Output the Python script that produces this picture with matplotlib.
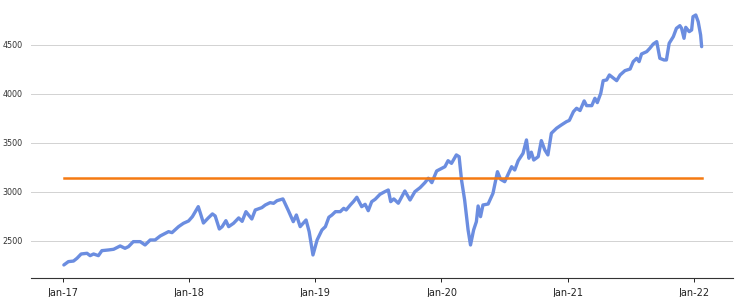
import matplotlib
matplotlib.use('Agg')
import matplotlib.pyplot as plt
import matplotlib.dates as mdates
import pandas as pd

# index level
dates = [
    '2017-01-03', '2017-01-16', '2017-01-31', '2017-02-10', '2017-02-22', '2017-03-11',
    '2017-03-20', '2017-03-30', '2017-04-13', '2017-04-23', '2017-05-12', '2017-05-27',
    '2017-06-15', '2017-06-29', '2017-07-09', '2017-07-23', '2017-08-12', '2017-08-26',
    '2017-09-10', '2017-09-24', '2017-10-09', '2017-11-02', '2017-11-12', '2017-12-01',
    '2017-12-15', '2017-12-30',
    '2018-01-10', '2018-01-27', '2018-02-02', '2018-02-11', '2018-02-25', '2018-03-09',
    '2018-03-17', '2018-03-29', '2018-04-06', '2018-04-17', '2018-04-25', '2018-05-09',
    '2018-05-24', '2018-06-03', '2018-06-14', '2018-07-01', '2018-07-11', '2018-07-30',
    '2018-08-09', '2018-08-23', '2018-09-02', '2018-09-12', '2018-09-29', '2018-10-14',
    '2018-10-29', '2018-11-07', '2018-11-18', '2018-12-05', '2018-12-14', '2018-12-25',
    '2019-01-06', '2019-01-20', '2019-01-30', '2019-02-09', '2019-02-18', '2019-02-28',
    '2019-03-14', '2019-03-24', '2019-03-31', '2019-04-12', '2019-04-21', '2019-05-01',
    '2019-05-15', '2019-05-25', '2019-06-03', '2019-06-13', '2019-06-23', '2019-07-07',
    '2019-07-21', '2019-07-31', '2019-08-07', '2019-08-16', '2019-08-29', '2019-09-17',
    '2019-10-02', '2019-10-16', '2019-10-31', '2019-11-14', '2019-11-24', '2019-12-04',
    '2019-12-18',
    '2020-01-02', '2020-01-11', '2020-01-20', '2020-01-30', '2020-02-13', '2020-02-21',
    '2020-02-28', '2020-03-08', '2020-03-18', '2020-03-25', '2020-04-03', '2020-04-11',
    '2020-04-16', '2020-04-23', '2020-04-30', '2020-05-15', '2020-05-29', '2020-06-11',
    '2020-06-20', '2020-07-02', '2020-07-22', '2020-07-31', '2020-08-10', '2020-08-24',
    '2020-09-03', '2020-09-10', '2020-09-17', '2020-09-24', '2020-10-07', '2020-10-16',
    '2020-10-26', '2020-11-04', '2020-11-14', '2020-11-29', '2020-12-13', '2020-12-28',
    '2021-01-05', '2021-01-17', '2021-01-26', '2021-02-05', '2021-02-17', '2021-02-24',
    '2021-03-11', '2021-03-20', '2021-03-27', '2021-04-06', '2021-04-13', '2021-04-23',
    '2021-05-01', '2021-05-22', '2021-06-01', '2021-06-15', '2021-06-30', '2021-07-09',
    '2021-07-19', '2021-07-26', '2021-08-02', '2021-08-17', '2021-08-26', '2021-09-05',
    '2021-09-15', '2021-09-24', '2021-10-06', '2021-10-13', '2021-10-21', '2021-11-02',
    '2021-11-11', '2021-11-21', '2021-11-26', '2021-12-03', '2021-12-08', '2021-12-18',
    '2021-12-25', '2021-12-29',
    '2022-01-06', '2022-01-13', '2022-01-20', '2022-01-23',
]
values = [
    2255, 2289, 2295, 2323, 2367, 2374,
    2350, 2367, 2350, 2401, 2408, 2415,
    2449, 2425, 2442, 2493, 2493, 2459,
    2510, 2510, 2551, 2595, 2585, 2646,
    2680, 2704,
    2748, 2850, 2785, 2683, 2735, 2776,
    2755, 2622, 2645, 2707, 2646, 2680,
    2735, 2700, 2799, 2724, 2816, 2840,
    2867, 2891, 2884, 2911, 2929, 2816,
    2697, 2765, 2646, 2714, 2595, 2357,
    2510, 2612, 2646, 2742, 2765, 2799,
    2799, 2833, 2816, 2867, 2901, 2946,
    2850, 2874, 2809, 2901, 2925, 2976,
    3003, 3020, 2901, 2929, 2885, 3010,
    2918, 3003, 3044, 3095, 3140, 3095,
    3214,
    3241, 3258, 3319, 3292, 3378, 3360,
    3122, 2918, 2612, 2459, 2612, 2697,
    2857, 2748, 2867, 2877, 2986, 3207,
    3129, 3105, 3258, 3224, 3319, 3394,
    3531, 3344, 3406, 3326, 3360, 3524,
    3429, 3378, 3599, 3650, 3684, 3718,
    3730, 3820, 3854, 3831, 3929, 3881,
    3881, 3956, 3912, 4007, 4136, 4143,
    4194, 4136, 4194, 4238, 4255, 4330,
    4364, 4330, 4408, 4432, 4466, 4510,
    4534, 4364, 4347, 4347, 4517, 4585,
    4670, 4697, 4670, 4568, 4680, 4636,
    4653, 4789,
    4806, 4738, 4602, 4483,
]
mean_level = 3143

if __name__ == '__main__':
    x = pd.to_datetime(dates)

    fig = plt.figure(figsize=(7.39, 2.97), dpi=100)
    ax = fig.add_axes([0.042, 0.064, 0.95, 0.936])

    ax.plot(x, values, color='#6b8de0', lw=2.4, solid_capstyle='round', zorder=3)
    ax.plot([x[0], x[-1]], [mean_level, mean_level], color='#f57a12', lw=1.8, zorder=4)

    ax.set_xlim(pd.Timestamp('2016-09-30'), pd.Timestamp('2022-04-24'))
    ax.set_ylim(2122, 4959)
    ax.set_yticks([2500, 3000, 3500, 4000, 4500])
    ax.xaxis.set_major_locator(mdates.YearLocator())
    ax.xaxis.set_major_formatter(mdates.DateFormatter('%b-%y'))

    ax.grid(axis='y', color='#d2d2d2', lw=0.7, zorder=0)
    for side in ['left', 'right', 'top']:
        ax.spines[side].set_visible(False)
    ax.spines['bottom'].set_color('#333333')
    ax.spines['bottom'].set_linewidth(0.8)

    ax.tick_params(axis='y', length=0, labelsize=5.8, labelcolor='#333333', pad=6)
    ax.tick_params(axis='x', length=3, width=0.6, labelsize=7, labelcolor='#222222', pad=4)

    fig.savefig('out.png', dpi=100)
